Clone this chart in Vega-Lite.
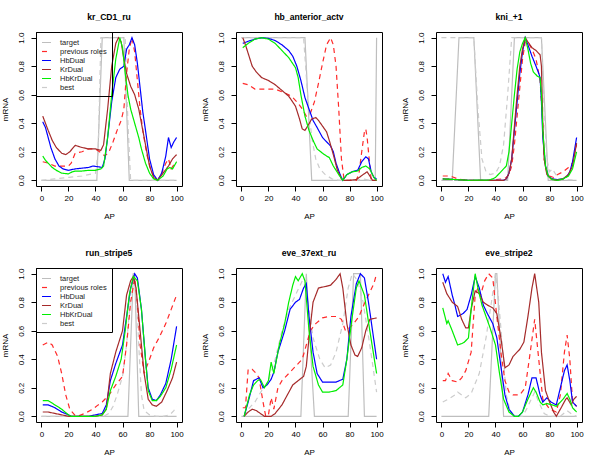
{
  "$schema": "https://vega.github.io/schema/vega-lite/v6.json",
  "padding": {"left": 0, "top": 12, "right": 0, "bottom": 0},
  "background": "white",
  "columns": 3,
  "spacing": {"column": 16, "row": 27},
  "config": {
    "font": "Liberation Sans",
    "view": {"stroke": "black", "strokeWidth": 1},
    "title": {"fontSize": 8.6, "fontWeight": "bold", "offset": 10, "color": "black"},
    "axis": {"domain": false, "grid": false, "ticks": true, "tickColor": "black", "tickSize": 5, "labelFontSize": 8, "labelColor": "black", "titleFontSize": 8, "titleFontWeight": "normal", "titleColor": "black", "labelPadding": 3, "labelFlush": false},
    "axisX": {"values": [0, 20, 40, 60, 80, 100], "titlePadding": 10},
    "axisY": {"values": [0, 0.2, 0.4, 0.6, 0.8, 1.0], "format": ".1f", "labelAngle": -90, "labelPadding": 6, "titlePadding": 8},
    "line": {"strokeWidth": 1.2}
  },
  "resolve": {"scale": {"color": "independent", "strokeDash": "independent"}, "legend": {"color": "independent", "strokeDash": "independent"}},
  "datasets": {
    "p1": [
      {"s":"target","x":0,"y":0},{"s":"target","x":41,"y":0},{"s":"target","x":45,"y":1},{"s":"target","x":61,"y":1},{"s":"target","x":65,"y":0},{"s":"target","x":100,"y":0},
      {"s":"best","x":0,"y":0},{"s":"best","x":10,"y":0.01},{"s":"best","x":20,"y":0.02},{"s":"best","x":30,"y":0.03},{"s":"best","x":40,"y":0.05},{"s":"best","x":42,"y":0.2},{"s":"best","x":44,"y":1},{"s":"best","x":62,"y":1},{"s":"best","x":64,"y":0.4},{"s":"best","x":66,"y":0},{"s":"best","x":100,"y":0},
      {"s":"previous roles","x":1,"y":0.13},{"s":"previous roles","x":5,"y":0.12},{"s":"previous roles","x":10,"y":0.1},{"s":"previous roles","x":15,"y":0.1},{"s":"previous roles","x":20,"y":0.1},{"s":"previous roles","x":22,"y":0.12},{"s":"previous roles","x":25,"y":0.19},{"s":"previous roles","x":30,"y":0.2},{"s":"previous roles","x":35,"y":0.22},{"s":"previous roles","x":40,"y":0.22},{"s":"previous roles","x":43,"y":0.2},{"s":"previous roles","x":47,"y":0.17},{"s":"previous roles","x":50,"y":0.2},{"s":"previous roles","x":53,"y":0.27},{"s":"previous roles","x":56,"y":0.35},{"s":"previous roles","x":59,"y":0.42},{"s":"previous roles","x":61,"y":0.5},{"s":"previous roles","x":63,"y":0.75},{"s":"previous roles","x":65,"y":0.92},{"s":"previous roles","x":67,"y":1.0},{"s":"previous roles","x":69,"y":0.9},{"s":"previous roles","x":71,"y":0.7},{"s":"previous roles","x":73,"y":0.5},{"s":"previous roles","x":75,"y":0.35},{"s":"previous roles","x":78,"y":0.18},{"s":"previous roles","x":81,"y":0.07},{"s":"previous roles","x":84,"y":0.01},{"s":"previous roles","x":86,"y":0},{"s":"previous roles","x":89,"y":0.05},{"s":"previous roles","x":92,"y":0.12},{"s":"previous roles","x":94,"y":0.15},{"s":"previous roles","x":96,"y":0.08},{"s":"previous roles","x":98,"y":0.11},{"s":"previous roles","x":100,"y":0.13},
      {"s":"HbDual","x":1,"y":0.41},{"s":"HbDual","x":3,"y":0.37},{"s":"HbDual","x":5,"y":0.3},{"s":"HbDual","x":7,"y":0.23},{"s":"HbDual","x":10,"y":0.15},{"s":"HbDual","x":13,"y":0.1},{"s":"HbDual","x":16,"y":0.08},{"s":"HbDual","x":20,"y":0.07},{"s":"HbDual","x":25,"y":0.08},{"s":"HbDual","x":30,"y":0.085},{"s":"HbDual","x":35,"y":0.09},{"s":"HbDual","x":38,"y":0.1},{"s":"HbDual","x":42,"y":0.095},{"s":"HbDual","x":45,"y":0.09},{"s":"HbDual","x":47,"y":0.15},{"s":"HbDual","x":49,"y":0.3},{"s":"HbDual","x":52,"y":0.55},{"s":"HbDual","x":55,"y":0.72},{"s":"HbDual","x":58,"y":0.78},{"s":"HbDual","x":61,"y":0.8},{"s":"HbDual","x":63,"y":0.92},{"s":"HbDual","x":65,"y":0.95},{"s":"HbDual","x":67,"y":1.0},{"s":"HbDual","x":69,"y":0.95},{"s":"HbDual","x":71,"y":0.82},{"s":"HbDual","x":73,"y":0.65},{"s":"HbDual","x":75,"y":0.48},{"s":"HbDual","x":77,"y":0.35},{"s":"HbDual","x":80,"y":0.15},{"s":"HbDual","x":83,"y":0.04},{"s":"HbDual","x":86,"y":0},{"s":"HbDual","x":89,"y":0.05},{"s":"HbDual","x":92,"y":0.17},{"s":"HbDual","x":94,"y":0.3},{"s":"HbDual","x":96,"y":0.23},{"s":"HbDual","x":98,"y":0.27},{"s":"HbDual","x":100,"y":0.3},
      {"s":"KrDual","x":1,"y":0.45},{"s":"KrDual","x":3,"y":0.4},{"s":"KrDual","x":5,"y":0.35},{"s":"KrDual","x":8,"y":0.28},{"s":"KrDual","x":11,"y":0.23},{"s":"KrDual","x":15,"y":0.19},{"s":"KrDual","x":18,"y":0.18},{"s":"KrDual","x":21,"y":0.2},{"s":"KrDual","x":25,"y":0.245},{"s":"KrDual","x":30,"y":0.23},{"s":"KrDual","x":35,"y":0.22},{"s":"KrDual","x":40,"y":0.22},{"s":"KrDual","x":44,"y":0.21},{"s":"KrDual","x":46,"y":0.25},{"s":"KrDual","x":49,"y":0.5},{"s":"KrDual","x":52,"y":0.8},{"s":"KrDual","x":55,"y":0.96},{"s":"KrDual","x":57,"y":1.0},{"s":"KrDual","x":59,"y":0.97},{"s":"KrDual","x":61,"y":0.85},{"s":"KrDual","x":63,"y":0.75},{"s":"KrDual","x":66,"y":0.66},{"s":"KrDual","x":69,"y":0.6},{"s":"KrDual","x":72,"y":0.5},{"s":"KrDual","x":74,"y":0.4},{"s":"KrDual","x":77,"y":0.25},{"s":"KrDual","x":80,"y":0.1},{"s":"KrDual","x":83,"y":0.02},{"s":"KrDual","x":86,"y":0},{"s":"KrDual","x":90,"y":0.05},{"s":"KrDual","x":94,"y":0.1},{"s":"KrDual","x":97,"y":0.15},{"s":"KrDual","x":100,"y":0.18},
      {"s":"HbKrDual","x":1,"y":0.17},{"s":"HbKrDual","x":3,"y":0.14},{"s":"HbKrDual","x":5,"y":0.12},{"s":"HbKrDual","x":8,"y":0.09},{"s":"HbKrDual","x":11,"y":0.07},{"s":"HbKrDual","x":15,"y":0.05},{"s":"HbKrDual","x":20,"y":0.045},{"s":"HbKrDual","x":23,"y":0.06},{"s":"HbKrDual","x":25,"y":0.065},{"s":"HbKrDual","x":30,"y":0.065},{"s":"HbKrDual","x":35,"y":0.07},{"s":"HbKrDual","x":40,"y":0.07},{"s":"HbKrDual","x":44,"y":0.08},{"s":"HbKrDual","x":46,"y":0.1},{"s":"HbKrDual","x":49,"y":0.3},{"s":"HbKrDual","x":52,"y":0.6},{"s":"HbKrDual","x":55,"y":0.85},{"s":"HbKrDual","x":58,"y":1.0},{"s":"HbKrDual","x":60,"y":0.93},{"s":"HbKrDual","x":62,"y":0.75},{"s":"HbKrDual","x":64,"y":0.6},{"s":"HbKrDual","x":66,"y":0.5},{"s":"HbKrDual","x":69,"y":0.4},{"s":"HbKrDual","x":72,"y":0.3},{"s":"HbKrDual","x":74,"y":0.22},{"s":"HbKrDual","x":77,"y":0.12},{"s":"HbKrDual","x":80,"y":0.05},{"s":"HbKrDual","x":83,"y":0.01},{"s":"HbKrDual","x":86,"y":0},{"s":"HbKrDual","x":90,"y":0.03},{"s":"HbKrDual","x":93,"y":0.08},{"s":"HbKrDual","x":95,"y":0.09},{"s":"HbKrDual","x":97,"y":0.08},{"s":"HbKrDual","x":100,"y":0.13}
    ],
    "p2": [
      {"s":"target","x":0,"y":1},{"s":"target","x":47,"y":1},{"s":"target","x":52,"y":0},{"s":"target","x":99,"y":0},{"s":"target","x":100,"y":1},
      {"s":"best","x":0,"y":1},{"s":"best","x":46,"y":1},{"s":"best","x":49,"y":0.6},{"s":"best","x":52,"y":0.3},{"s":"best","x":55,"y":0.15},{"s":"best","x":58,"y":0.08},{"s":"best","x":62,"y":0.04},{"s":"best","x":67,"y":0.01},{"s":"best","x":72,"y":0},{"s":"best","x":85,"y":0},{"s":"best","x":90,"y":0.01},{"s":"best","x":95,"y":0},{"s":"best","x":100,"y":0},
      {"s":"previous roles","x":1,"y":0.68},{"s":"previous roles","x":5,"y":0.67},{"s":"previous roles","x":10,"y":0.64},{"s":"previous roles","x":15,"y":0.64},{"s":"previous roles","x":20,"y":0.64},{"s":"previous roles","x":25,"y":0.64},{"s":"previous roles","x":30,"y":0.62},{"s":"previous roles","x":35,"y":0.6},{"s":"previous roles","x":38,"y":0.58},{"s":"previous roles","x":42,"y":0.54},{"s":"previous roles","x":45,"y":0.5},{"s":"previous roles","x":48,"y":0.45},{"s":"previous roles","x":51,"y":0.47},{"s":"previous roles","x":54,"y":0.55},{"s":"previous roles","x":57,"y":0.68},{"s":"previous roles","x":60,"y":0.82},{"s":"previous roles","x":63,"y":0.95},{"s":"previous roles","x":66,"y":1.0},{"s":"previous roles","x":68,"y":0.95},{"s":"previous roles","x":70,"y":0.8},{"s":"previous roles","x":72,"y":0.5},{"s":"previous roles","x":74,"y":0.15},{"s":"previous roles","x":76,"y":0},{"s":"previous roles","x":80,"y":0},{"s":"previous roles","x":85,"y":0},{"s":"previous roles","x":87,"y":0.05},{"s":"previous roles","x":89,"y":0.2},{"s":"previous roles","x":91,"y":0.34},{"s":"previous roles","x":92,"y":0.36},{"s":"previous roles","x":93,"y":0.3},{"s":"previous roles","x":95,"y":0.1},{"s":"previous roles","x":96,"y":0},{"s":"previous roles","x":100,"y":0},
      {"s":"HbDual","x":1,"y":0.96},{"s":"HbDual","x":5,"y":0.975},{"s":"HbDual","x":10,"y":0.99},{"s":"HbDual","x":15,"y":1.0},{"s":"HbDual","x":20,"y":0.995},{"s":"HbDual","x":25,"y":0.98},{"s":"HbDual","x":30,"y":0.95},{"s":"HbDual","x":35,"y":0.91},{"s":"HbDual","x":38,"y":0.87},{"s":"HbDual","x":41,"y":0.8},{"s":"HbDual","x":44,"y":0.7},{"s":"HbDual","x":47,"y":0.58},{"s":"HbDual","x":50,"y":0.5},{"s":"HbDual","x":53,"y":0.42},{"s":"HbDual","x":56,"y":0.37},{"s":"HbDual","x":60,"y":0.3},{"s":"HbDual","x":63,"y":0.27},{"s":"HbDual","x":66,"y":0.24},{"s":"HbDual","x":68,"y":0.2},{"s":"HbDual","x":70,"y":0.12},{"s":"HbDual","x":73,"y":0.04},{"s":"HbDual","x":75,"y":0},{"s":"HbDual","x":78,"y":0.04},{"s":"HbDual","x":82,"y":0.06},{"s":"HbDual","x":86,"y":0.07},{"s":"HbDual","x":89,"y":0.13},{"s":"HbDual","x":92,"y":0.165},{"s":"HbDual","x":94,"y":0.15},{"s":"HbDual","x":96,"y":0.06},{"s":"HbDual","x":98,"y":0.02},{"s":"HbDual","x":100,"y":0.01},
      {"s":"KrDual","x":1,"y":1.0},{"s":"KrDual","x":3,"y":0.95},{"s":"KrDual","x":5,"y":0.89},{"s":"KrDual","x":8,"y":0.8},{"s":"KrDual","x":11,"y":0.76},{"s":"KrDual","x":15,"y":0.72},{"s":"KrDual","x":20,"y":0.7},{"s":"KrDual","x":25,"y":0.67},{"s":"KrDual","x":30,"y":0.63},{"s":"KrDual","x":35,"y":0.59},{"s":"KrDual","x":40,"y":0.52},{"s":"KrDual","x":43,"y":0.43},{"s":"KrDual","x":45,"y":0.36},{"s":"KrDual","x":47,"y":0.35},{"s":"KrDual","x":49,"y":0.38},{"s":"KrDual","x":52,"y":0.43},{"s":"KrDual","x":55,"y":0.44},{"s":"KrDual","x":57,"y":0.42},{"s":"KrDual","x":60,"y":0.38},{"s":"KrDual","x":63,"y":0.34},{"s":"KrDual","x":65,"y":0.28},{"s":"KrDual","x":68,"y":0.18},{"s":"KrDual","x":71,"y":0.07},{"s":"KrDual","x":74,"y":0.01},{"s":"KrDual","x":76,"y":0},{"s":"KrDual","x":80,"y":0},{"s":"KrDual","x":85,"y":0.005},{"s":"KrDual","x":90,"y":0.04},{"s":"KrDual","x":93,"y":0.06},{"s":"KrDual","x":95,"y":0.03},{"s":"KrDual","x":97,"y":0},{"s":"KrDual","x":100,"y":0},
      {"s":"HbKrDual","x":1,"y":0.93},{"s":"HbKrDual","x":5,"y":0.96},{"s":"HbKrDual","x":10,"y":0.99},{"s":"HbKrDual","x":15,"y":1.0},{"s":"HbKrDual","x":20,"y":0.99},{"s":"HbKrDual","x":25,"y":0.96},{"s":"HbKrDual","x":30,"y":0.91},{"s":"HbKrDual","x":35,"y":0.86},{"s":"HbKrDual","x":40,"y":0.79},{"s":"HbKrDual","x":42,"y":0.72},{"s":"HbKrDual","x":44,"y":0.6},{"s":"HbKrDual","x":47,"y":0.45},{"s":"HbKrDual","x":50,"y":0.35},{"s":"HbKrDual","x":53,"y":0.28},{"s":"HbKrDual","x":56,"y":0.22},{"s":"HbKrDual","x":60,"y":0.19},{"s":"HbKrDual","x":63,"y":0.17},{"s":"HbKrDual","x":65,"y":0.16},{"s":"HbKrDual","x":68,"y":0.1},{"s":"HbKrDual","x":72,"y":0.04},{"s":"HbKrDual","x":75,"y":0},{"s":"HbKrDual","x":78,"y":0.04},{"s":"HbKrDual","x":82,"y":0.06},{"s":"HbKrDual","x":86,"y":0.065},{"s":"HbKrDual","x":89,"y":0.09},{"s":"HbKrDual","x":92,"y":0.1},{"s":"HbKrDual","x":95,"y":0.08},{"s":"HbKrDual","x":98,"y":0.02},{"s":"HbKrDual","x":100,"y":0}
    ],
    "p3": [
      {"s":"target","x":0,"y":0},{"s":"target","x":8,"y":0},{"s":"target","x":13,"y":1},{"s":"target","x":24,"y":1},{"s":"target","x":29,"y":0},{"s":"target","x":49,"y":0},{"s":"target","x":54,"y":1},{"s":"target","x":74,"y":1},{"s":"target","x":79,"y":0},{"s":"target","x":100,"y":0},
      {"s":"best","x":0,"y":1},{"s":"best","x":24,"y":1},{"s":"best","x":27,"y":0.5},{"s":"best","x":30,"y":0.15},{"s":"best","x":33,"y":0.06},{"s":"best","x":36,"y":0.04},{"s":"best","x":40,"y":0.05},{"s":"best","x":43,"y":0.1},{"s":"best","x":46,"y":0.25},{"s":"best","x":49,"y":0.6},{"s":"best","x":52,"y":1},{"s":"best","x":74,"y":1},{"s":"best","x":76,"y":0.5},{"s":"best","x":78,"y":0.15},{"s":"best","x":80,"y":0.06},{"s":"best","x":82,"y":0.08},{"s":"best","x":84,"y":0.05},{"s":"best","x":87,"y":0.01},{"s":"best","x":100,"y":0},
      {"s":"previous roles","x":1,"y":0.03},{"s":"previous roles","x":5,"y":0.03},{"s":"previous roles","x":8,"y":0.025},{"s":"previous roles","x":12,"y":0.01},{"s":"previous roles","x":15,"y":0.005},{"s":"previous roles","x":20,"y":0},{"s":"previous roles","x":35,"y":0},{"s":"previous roles","x":40,"y":0.005},{"s":"previous roles","x":45,"y":0.01},{"s":"previous roles","x":48,"y":0.02},{"s":"previous roles","x":50,"y":0.04},{"s":"previous roles","x":52,"y":0.1},{"s":"previous roles","x":54,"y":0.25},{"s":"previous roles","x":56,"y":0.45},{"s":"previous roles","x":58,"y":0.65},{"s":"previous roles","x":60,"y":0.85},{"s":"previous roles","x":62,"y":0.97},{"s":"previous roles","x":64,"y":0.97},{"s":"previous roles","x":67,"y":0.92},{"s":"previous roles","x":70,"y":0.85},{"s":"previous roles","x":73,"y":0.7},{"s":"previous roles","x":75,"y":0.4},{"s":"previous roles","x":76,"y":0.15},{"s":"previous roles","x":78,"y":0.05},{"s":"previous roles","x":80,"y":0.03},{"s":"previous roles","x":83,"y":0.02},{"s":"previous roles","x":86,"y":0.04},{"s":"previous roles","x":90,"y":0.06},{"s":"previous roles","x":94,"y":0.09},{"s":"previous roles","x":97,"y":0.12},{"s":"previous roles","x":100,"y":0.25},
      {"s":"HbDual","x":1,"y":0.01},{"s":"HbDual","x":10,"y":0.005},{"s":"HbDual","x":20,"y":0},{"s":"HbDual","x":46,"y":0},{"s":"HbDual","x":48,"y":0.01},{"s":"HbDual","x":50,"y":0.05},{"s":"HbDual","x":52,"y":0.15},{"s":"HbDual","x":54,"y":0.35},{"s":"HbDual","x":56,"y":0.55},{"s":"HbDual","x":58,"y":0.75},{"s":"HbDual","x":60,"y":0.9},{"s":"HbDual","x":62,"y":1.0},{"s":"HbDual","x":64,"y":0.95},{"s":"HbDual","x":67,"y":0.87},{"s":"HbDual","x":70,"y":0.8},{"s":"HbDual","x":72,"y":0.75},{"s":"HbDual","x":73,"y":0.72},{"s":"HbDual","x":74,"y":0.55},{"s":"HbDual","x":75,"y":0.3},{"s":"HbDual","x":77,"y":0.1},{"s":"HbDual","x":79,"y":0.03},{"s":"HbDual","x":82,"y":0.01},{"s":"HbDual","x":86,"y":0.005},{"s":"HbDual","x":90,"y":0.01},{"s":"HbDual","x":93,"y":0.03},{"s":"HbDual","x":95,"y":0.06},{"s":"HbDual","x":97,"y":0.13},{"s":"HbDual","x":100,"y":0.3},
      {"s":"KrDual","x":1,"y":0.01},{"s":"KrDual","x":10,"y":0.005},{"s":"KrDual","x":20,"y":0},{"s":"KrDual","x":46,"y":0},{"s":"KrDual","x":48,"y":0.01},{"s":"KrDual","x":50,"y":0.05},{"s":"KrDual","x":52,"y":0.15},{"s":"KrDual","x":54,"y":0.38},{"s":"KrDual","x":56,"y":0.6},{"s":"KrDual","x":58,"y":0.8},{"s":"KrDual","x":60,"y":0.92},{"s":"KrDual","x":62,"y":1.0},{"s":"KrDual","x":64,"y":0.97},{"s":"KrDual","x":67,"y":0.93},{"s":"KrDual","x":70,"y":0.91},{"s":"KrDual","x":73,"y":0.88},{"s":"KrDual","x":74,"y":0.8},{"s":"KrDual","x":75,"y":0.4},{"s":"KrDual","x":76,"y":0.15},{"s":"KrDual","x":78,"y":0.04},{"s":"KrDual","x":81,"y":0.01},{"s":"KrDual","x":85,"y":0},{"s":"KrDual","x":90,"y":0.01},{"s":"KrDual","x":94,"y":0.04},{"s":"KrDual","x":97,"y":0.1},{"s":"KrDual","x":100,"y":0.26},
      {"s":"HbKrDual","x":1,"y":0.01},{"s":"HbKrDual","x":10,"y":0.005},{"s":"HbKrDual","x":20,"y":0},{"s":"HbKrDual","x":35,"y":0.002},{"s":"HbKrDual","x":38,"y":0.01},{"s":"HbKrDual","x":40,"y":0.02},{"s":"HbKrDual","x":42,"y":0.04},{"s":"HbKrDual","x":45,"y":0.07},{"s":"HbKrDual","x":48,"y":0.1},{"s":"HbKrDual","x":50,"y":0.2},{"s":"HbKrDual","x":52,"y":0.4},{"s":"HbKrDual","x":54,"y":0.6},{"s":"HbKrDual","x":56,"y":0.78},{"s":"HbKrDual","x":58,"y":0.9},{"s":"HbKrDual","x":60,"y":0.96},{"s":"HbKrDual","x":62,"y":1.0},{"s":"HbKrDual","x":64,"y":0.92},{"s":"HbKrDual","x":66,"y":0.82},{"s":"HbKrDual","x":68,"y":0.76},{"s":"HbKrDual","x":71,"y":0.73},{"s":"HbKrDual","x":73,"y":0.72},{"s":"HbKrDual","x":74,"y":0.6},{"s":"HbKrDual","x":75,"y":0.35},{"s":"HbKrDual","x":77,"y":0.1},{"s":"HbKrDual","x":79,"y":0.03},{"s":"HbKrDual","x":82,"y":0.005},{"s":"HbKrDual","x":86,"y":0},{"s":"HbKrDual","x":90,"y":0.01},{"s":"HbKrDual","x":94,"y":0.03},{"s":"HbKrDual","x":97,"y":0.08},{"s":"HbKrDual","x":100,"y":0.2}
    ],
    "p4": [
      {"s":"target","x":0,"y":0},{"s":"target","x":64,"y":0},{"s":"target","x":68,"y":1},{"s":"target","x":69,"y":1},{"s":"target","x":72,"y":0},{"s":"target","x":100,"y":0},
      {"s":"best","x":0,"y":0},{"s":"best","x":46,"y":0},{"s":"best","x":50,"y":0.02},{"s":"best","x":53,"y":0.07},{"s":"best","x":56,"y":0.15},{"s":"best","x":60,"y":0.28},{"s":"best","x":63,"y":0.5},{"s":"best","x":66,"y":0.85},{"s":"best","x":68,"y":1.0},{"s":"best","x":70,"y":0.9},{"s":"best","x":72,"y":0.5},{"s":"best","x":74,"y":0.15},{"s":"best","x":76,"y":0.04},{"s":"best","x":80,"y":0.01},{"s":"best","x":85,"y":0},{"s":"best","x":90,"y":0},{"s":"best","x":95,"y":0.01},{"s":"best","x":98,"y":0.04},{"s":"best","x":100,"y":0.07},
      {"s":"previous roles","x":1,"y":0.5},{"s":"previous roles","x":5,"y":0.52},{"s":"previous roles","x":8,"y":0.5},{"s":"previous roles","x":12,"y":0.42},{"s":"previous roles","x":15,"y":0.3},{"s":"previous roles","x":18,"y":0.15},{"s":"previous roles","x":21,"y":0.05},{"s":"previous roles","x":25,"y":0.005},{"s":"previous roles","x":28,"y":0.005},{"s":"previous roles","x":32,"y":0.02},{"s":"previous roles","x":38,"y":0.05},{"s":"previous roles","x":42,"y":0.08},{"s":"previous roles","x":45,"y":0.1},{"s":"previous roles","x":50,"y":0.15},{"s":"previous roles","x":55,"y":0.22},{"s":"previous roles","x":60,"y":0.28},{"s":"previous roles","x":63,"y":0.5},{"s":"previous roles","x":66,"y":0.8},{"s":"previous roles","x":69,"y":0.97},{"s":"previous roles","x":71,"y":0.8},{"s":"previous roles","x":73,"y":0.5},{"s":"previous roles","x":76,"y":0.3},{"s":"previous roles","x":80,"y":0.4},{"s":"previous roles","x":83,"y":0.48},{"s":"previous roles","x":87,"y":0.55},{"s":"previous roles","x":92,"y":0.65},{"s":"previous roles","x":96,"y":0.75},{"s":"previous roles","x":100,"y":0.85},
      {"s":"HbDual","x":1,"y":0.08},{"s":"HbDual","x":5,"y":0.08},{"s":"HbDual","x":10,"y":0.06},{"s":"HbDual","x":15,"y":0.03},{"s":"HbDual","x":20,"y":0.01},{"s":"HbDual","x":22,"y":0},{"s":"HbDual","x":35,"y":0},{"s":"HbDual","x":40,"y":0.01},{"s":"HbDual","x":45,"y":0.02},{"s":"HbDual","x":48,"y":0.08},{"s":"HbDual","x":51,"y":0.25},{"s":"HbDual","x":55,"y":0.37},{"s":"HbDual","x":60,"y":0.5},{"s":"HbDual","x":63,"y":0.7},{"s":"HbDual","x":66,"y":0.9},{"s":"HbDual","x":69,"y":1.0},{"s":"HbDual","x":71,"y":0.97},{"s":"HbDual","x":74,"y":0.75},{"s":"HbDual","x":77,"y":0.4},{"s":"HbDual","x":79,"y":0.2},{"s":"HbDual","x":82,"y":0.12},{"s":"HbDual","x":85,"y":0.11},{"s":"HbDual","x":88,"y":0.15},{"s":"HbDual","x":92,"y":0.23},{"s":"HbDual","x":96,"y":0.4},{"s":"HbDual","x":100,"y":0.63},
      {"s":"KrDual","x":1,"y":0.03},{"s":"KrDual","x":5,"y":0.03},{"s":"KrDual","x":10,"y":0.02},{"s":"KrDual","x":15,"y":0.01},{"s":"KrDual","x":20,"y":0},{"s":"KrDual","x":40,"y":0},{"s":"KrDual","x":45,"y":0.01},{"s":"KrDual","x":48,"y":0.05},{"s":"KrDual","x":51,"y":0.3},{"s":"KrDual","x":55,"y":0.45},{"s":"KrDual","x":60,"y":0.6},{"s":"KrDual","x":63,"y":0.85},{"s":"KrDual","x":66,"y":0.95},{"s":"KrDual","x":68,"y":0.98},{"s":"KrDual","x":70,"y":0.9},{"s":"KrDual","x":73,"y":0.6},{"s":"KrDual","x":76,"y":0.3},{"s":"KrDual","x":79,"y":0.12},{"s":"KrDual","x":82,"y":0.08},{"s":"KrDual","x":85,"y":0.07},{"s":"KrDual","x":89,"y":0.1},{"s":"KrDual","x":93,"y":0.18},{"s":"KrDual","x":97,"y":0.27},{"s":"KrDual","x":100,"y":0.38},
      {"s":"HbKrDual","x":1,"y":0.11},{"s":"HbKrDual","x":5,"y":0.11},{"s":"HbKrDual","x":10,"y":0.08},{"s":"HbKrDual","x":15,"y":0.05},{"s":"HbKrDual","x":20,"y":0.01},{"s":"HbKrDual","x":22,"y":0},{"s":"HbKrDual","x":40,"y":0},{"s":"HbKrDual","x":45,"y":0.01},{"s":"HbKrDual","x":48,"y":0.05},{"s":"HbKrDual","x":51,"y":0.18},{"s":"HbKrDual","x":55,"y":0.28},{"s":"HbKrDual","x":59,"y":0.4},{"s":"HbKrDual","x":62,"y":0.6},{"s":"HbKrDual","x":65,"y":0.85},{"s":"HbKrDual","x":68,"y":0.98},{"s":"HbKrDual","x":71,"y":0.95},{"s":"HbKrDual","x":74,"y":0.75},{"s":"HbKrDual","x":77,"y":0.4},{"s":"HbKrDual","x":79,"y":0.18},{"s":"HbKrDual","x":82,"y":0.11},{"s":"HbKrDual","x":85,"y":0.11},{"s":"HbKrDual","x":88,"y":0.14},{"s":"HbKrDual","x":92,"y":0.2},{"s":"HbKrDual","x":96,"y":0.33},{"s":"HbKrDual","x":100,"y":0.5}
    ],
    "p5": [
      {"s":"target","x":0,"y":0},{"s":"target","x":44,"y":0},{"s":"target","x":48,"y":1},{"s":"target","x":54,"y":0},{"s":"target","x":79,"y":0},{"s":"target","x":83,"y":1},{"s":"target","x":88,"y":1},{"s":"target","x":91,"y":0},{"s":"target","x":100,"y":0},
      {"s":"best","x":2,"y":0},{"s":"best","x":5,"y":0.05},{"s":"best","x":10,"y":0.1},{"s":"best","x":15,"y":0.18},{"s":"best","x":20,"y":0.25},{"s":"best","x":25,"y":0.4},{"s":"best","x":30,"y":0.6},{"s":"best","x":35,"y":0.75},{"s":"best","x":40,"y":0.85},{"s":"best","x":45,"y":0.95},{"s":"best","x":48,"y":0.9},{"s":"best","x":50,"y":0.75},{"s":"best","x":53,"y":0.55},{"s":"best","x":58,"y":0.4},{"s":"best","x":62,"y":0.34},{"s":"best","x":66,"y":0.36},{"s":"best","x":70,"y":0.45},{"s":"best","x":75,"y":0.65},{"s":"best","x":79,"y":0.9},{"s":"best","x":82,"y":1.0},{"s":"best","x":86,"y":0.95},{"s":"best","x":90,"y":0.8},{"s":"best","x":95,"y":0.5},{"s":"best","x":100,"y":0.17},
      {"s":"previous roles","x":1,"y":0.06},{"s":"previous roles","x":3,"y":0.06},{"s":"previous roles","x":5,"y":0.33},{"s":"previous roles","x":8,"y":0.33},{"s":"previous roles","x":11,"y":0.3},{"s":"previous roles","x":13,"y":0.27},{"s":"previous roles","x":16,"y":0.1},{"s":"previous roles","x":18,"y":0},{"s":"previous roles","x":20,"y":0.01},{"s":"previous roles","x":22,"y":0.13},{"s":"previous roles","x":24,"y":0.05},{"s":"previous roles","x":27,"y":0.2},{"s":"previous roles","x":30,"y":0.25},{"s":"previous roles","x":35,"y":0.3},{"s":"previous roles","x":40,"y":0.35},{"s":"previous roles","x":45,"y":0.4},{"s":"previous roles","x":48,"y":0.5},{"s":"previous roles","x":51,"y":0.6},{"s":"previous roles","x":55,"y":0.65},{"s":"previous roles","x":60,"y":0.69},{"s":"previous roles","x":65,"y":0.7},{"s":"previous roles","x":70,"y":0.7},{"s":"previous roles","x":74,"y":0.68},{"s":"previous roles","x":77,"y":0.6},{"s":"previous roles","x":80,"y":0.62},{"s":"previous roles","x":83,"y":0.65},{"s":"previous roles","x":87,"y":0.7},{"s":"previous roles","x":90,"y":0.77},{"s":"previous roles","x":94,"y":0.85},{"s":"previous roles","x":98,"y":0.93},{"s":"previous roles","x":100,"y":1.0},
      {"s":"HbDual","x":2,"y":0},{"s":"HbDual","x":5,"y":0.1},{"s":"HbDual","x":9,"y":0.25},{"s":"HbDual","x":11,"y":0.26},{"s":"HbDual","x":13,"y":0.27},{"s":"HbDual","x":16,"y":0.2},{"s":"HbDual","x":19,"y":0.22},{"s":"HbDual","x":22,"y":0.26},{"s":"HbDual","x":24,"y":0.31},{"s":"HbDual","x":27,"y":0.45},{"s":"HbDual","x":32,"y":0.6},{"s":"HbDual","x":36,"y":0.75},{"s":"HbDual","x":40,"y":0.8},{"s":"HbDual","x":43,"y":0.82},{"s":"HbDual","x":46,"y":0.9},{"s":"HbDual","x":48,"y":0.93},{"s":"HbDual","x":50,"y":0.7},{"s":"HbDual","x":53,"y":0.45},{"s":"HbDual","x":56,"y":0.3},{"s":"HbDual","x":60,"y":0.24},{"s":"HbDual","x":65,"y":0.24},{"s":"HbDual","x":70,"y":0.24},{"s":"HbDual","x":75,"y":0.26},{"s":"HbDual","x":78,"y":0.4},{"s":"HbDual","x":81,"y":0.7},{"s":"HbDual","x":85,"y":0.93},{"s":"HbDual","x":88,"y":1.0},{"s":"HbDual","x":91,"y":0.97},{"s":"HbDual","x":94,"y":0.8},{"s":"HbDual","x":97,"y":0.6},{"s":"HbDual","x":100,"y":0.4},
      {"s":"KrDual","x":2,"y":0},{"s":"KrDual","x":5,"y":0.03},{"s":"KrDual","x":8,"y":0.05},{"s":"KrDual","x":11,"y":0.04},{"s":"KrDual","x":14,"y":0.02},{"s":"KrDual","x":17,"y":0},{"s":"KrDual","x":22,"y":0},{"s":"KrDual","x":25,"y":0.02},{"s":"KrDual","x":30,"y":0.08},{"s":"KrDual","x":34,"y":0.15},{"s":"KrDual","x":38,"y":0.22},{"s":"KrDual","x":42,"y":0.25},{"s":"KrDual","x":46,"y":0.28},{"s":"KrDual","x":48,"y":0.35},{"s":"KrDual","x":50,"y":0.55},{"s":"KrDual","x":53,"y":0.8},{"s":"KrDual","x":57,"y":0.9},{"s":"KrDual","x":62,"y":0.91},{"s":"KrDual","x":66,"y":0.92},{"s":"KrDual","x":70,"y":0.96},{"s":"KrDual","x":73,"y":1.0},{"s":"KrDual","x":75,"y":0.9},{"s":"KrDual","x":78,"y":0.65},{"s":"KrDual","x":81,"y":0.5},{"s":"KrDual","x":84,"y":0.43},{"s":"KrDual","x":86,"y":0.42},{"s":"KrDual","x":89,"y":0.48},{"s":"KrDual","x":92,"y":0.6},{"s":"KrDual","x":95,"y":0.68},{"s":"KrDual","x":100,"y":0.69},
      {"s":"HbKrDual","x":2,"y":0},{"s":"HbKrDual","x":6,"y":0.15},{"s":"HbKrDual","x":9,"y":0.22},{"s":"HbKrDual","x":12,"y":0.25},{"s":"HbKrDual","x":14,"y":0.26},{"s":"HbKrDual","x":17,"y":0.2},{"s":"HbKrDual","x":20,"y":0.25},{"s":"HbKrDual","x":22,"y":0.38},{"s":"HbKrDual","x":24,"y":0.3},{"s":"HbKrDual","x":28,"y":0.5},{"s":"HbKrDual","x":32,"y":0.65},{"s":"HbKrDual","x":35,"y":0.8},{"s":"HbKrDual","x":38,"y":0.92},{"s":"HbKrDual","x":40,"y":0.98},{"s":"HbKrDual","x":42,"y":0.95},{"s":"HbKrDual","x":45,"y":1.0},{"s":"HbKrDual","x":47,"y":0.95},{"s":"HbKrDual","x":50,"y":0.6},{"s":"HbKrDual","x":53,"y":0.35},{"s":"HbKrDual","x":57,"y":0.22},{"s":"HbKrDual","x":60,"y":0.17},{"s":"HbKrDual","x":65,"y":0.17},{"s":"HbKrDual","x":70,"y":0.18},{"s":"HbKrDual","x":75,"y":0.22},{"s":"HbKrDual","x":78,"y":0.4},{"s":"HbKrDual","x":82,"y":0.7},{"s":"HbKrDual","x":85,"y":0.9},{"s":"HbKrDual","x":87,"y":0.95},{"s":"HbKrDual","x":91,"y":0.85},{"s":"HbKrDual","x":95,"y":0.6},{"s":"HbKrDual","x":100,"y":0.3}
    ],
    "p6": [
      {"s":"target","x":0,"y":0},{"s":"target","x":35,"y":0},{"s":"target","x":40,"y":1},{"s":"target","x":41,"y":1},{"s":"target","x":46,"y":0},{"s":"target","x":100,"y":0},
      {"s":"best","x":1,"y":0.1},{"s":"best","x":5,"y":0.12},{"s":"best","x":10,"y":0.15},{"s":"best","x":12,"y":0.17},{"s":"best","x":18,"y":0.13},{"s":"best","x":22,"y":0.16},{"s":"best","x":28,"y":0.3},{"s":"best","x":33,"y":0.55},{"s":"best","x":37,"y":0.8},{"s":"best","x":40,"y":1.0},{"s":"best","x":42,"y":0.85},{"s":"best","x":45,"y":0.5},{"s":"best","x":48,"y":0.15},{"s":"best","x":51,"y":0.03},{"s":"best","x":55,"y":0},{"s":"best","x":60,"y":0},{"s":"best","x":63,"y":0.05},{"s":"best","x":67,"y":0.13},{"s":"best","x":69,"y":0.17},{"s":"best","x":72,"y":0.1},{"s":"best","x":76,"y":0.02},{"s":"best","x":80,"y":0},{"s":"best","x":88,"y":0},{"s":"best","x":93,"y":0.04},{"s":"best","x":97,"y":0.01},{"s":"best","x":100,"y":0},
      {"s":"previous roles","x":1,"y":0.25},{"s":"previous roles","x":3,"y":0.25},{"s":"previous roles","x":5,"y":0.3},{"s":"previous roles","x":8,"y":0.25},{"s":"previous roles","x":12,"y":0.24},{"s":"previous roles","x":15,"y":0.27},{"s":"previous roles","x":18,"y":0.32},{"s":"previous roles","x":22,"y":0.45},{"s":"previous roles","x":25,"y":0.85},{"s":"previous roles","x":27,"y":0.9},{"s":"previous roles","x":29,"y":0.85},{"s":"previous roles","x":32,"y":0.95},{"s":"previous roles","x":35,"y":1.0},{"s":"previous roles","x":38,"y":0.97},{"s":"previous roles","x":41,"y":0.7},{"s":"previous roles","x":44,"y":0.45},{"s":"previous roles","x":47,"y":0.25},{"s":"previous roles","x":50,"y":0.17},{"s":"previous roles","x":53,"y":0.15},{"s":"previous roles","x":58,"y":0.15},{"s":"previous roles","x":62,"y":0.2},{"s":"previous roles","x":65,"y":0.4},{"s":"previous roles","x":69,"y":0.68},{"s":"previous roles","x":72,"y":0.4},{"s":"previous roles","x":75,"y":0.12},{"s":"previous roles","x":80,"y":0.05},{"s":"previous roles","x":85,"y":0.03},{"s":"previous roles","x":88,"y":0.15},{"s":"previous roles","x":91,"y":0.45},{"s":"previous roles","x":93,"y":0.57},{"s":"previous roles","x":95,"y":0.4},{"s":"previous roles","x":97,"y":0.1},{"s":"previous roles","x":100,"y":0.07},
      {"s":"HbDual","x":1,"y":1.0},{"s":"HbDual","x":3,"y":0.94},{"s":"HbDual","x":5,"y":0.98},{"s":"HbDual","x":8,"y":0.85},{"s":"HbDual","x":10,"y":0.78},{"s":"HbDual","x":12,"y":0.7},{"s":"HbDual","x":16,"y":0.72},{"s":"HbDual","x":19,"y":0.75},{"s":"HbDual","x":22,"y":0.85},{"s":"HbDual","x":25,"y":0.98},{"s":"HbDual","x":28,"y":0.9},{"s":"HbDual","x":31,"y":0.78},{"s":"HbDual","x":34,"y":0.72},{"s":"HbDual","x":38,"y":0.65},{"s":"HbDual","x":41,"y":0.55},{"s":"HbDual","x":44,"y":0.35},{"s":"HbDual","x":47,"y":0.15},{"s":"HbDual","x":50,"y":0.05},{"s":"HbDual","x":54,"y":0},{"s":"HbDual","x":57,"y":0},{"s":"HbDual","x":60,"y":0.03},{"s":"HbDual","x":64,"y":0.15},{"s":"HbDual","x":67,"y":0.27},{"s":"HbDual","x":70,"y":0.27},{"s":"HbDual","x":73,"y":0.15},{"s":"HbDual","x":75,"y":0.1},{"s":"HbDual","x":78,"y":0.13},{"s":"HbDual","x":81,"y":0.1},{"s":"HbDual","x":85,"y":0.08},{"s":"HbDual","x":88,"y":0.2},{"s":"HbDual","x":91,"y":0.32},{"s":"HbDual","x":93,"y":0.36},{"s":"HbDual","x":95,"y":0.25},{"s":"HbDual","x":97,"y":0.1},{"s":"HbDual","x":100,"y":0.07},
      {"s":"KrDual","x":1,"y":0.94},{"s":"KrDual","x":4,"y":0.86},{"s":"KrDual","x":8,"y":0.8},{"s":"KrDual","x":12,"y":0.77},{"s":"KrDual","x":15,"y":0.68},{"s":"KrDual","x":18,"y":0.62},{"s":"KrDual","x":20,"y":0.62},{"s":"KrDual","x":22,"y":0.75},{"s":"KrDual","x":25,"y":0.88},{"s":"KrDual","x":28,"y":0.86},{"s":"KrDual","x":31,"y":0.8},{"s":"KrDual","x":34,"y":0.78},{"s":"KrDual","x":38,"y":0.76},{"s":"KrDual","x":41,"y":0.72},{"s":"KrDual","x":44,"y":0.55},{"s":"KrDual","x":47,"y":0.34},{"s":"KrDual","x":50,"y":0.36},{"s":"KrDual","x":53,"y":0.42},{"s":"KrDual","x":58,"y":0.47},{"s":"KrDual","x":61,"y":0.52},{"s":"KrDual","x":64,"y":0.7},{"s":"KrDual","x":67,"y":0.9},{"s":"KrDual","x":69,"y":1.0},{"s":"KrDual","x":72,"y":0.8},{"s":"KrDual","x":74,"y":0.45},{"s":"KrDual","x":77,"y":0.18},{"s":"KrDual","x":80,"y":0.1},{"s":"KrDual","x":83,"y":0.03},{"s":"KrDual","x":85,"y":0},{"s":"KrDual","x":88,"y":0.05},{"s":"KrDual","x":92,"y":0.12},{"s":"KrDual","x":93,"y":0.13},{"s":"KrDual","x":96,"y":0.08},{"s":"KrDual","x":98,"y":0.12},{"s":"KrDual","x":100,"y":0.14},
      {"s":"HbKrDual","x":1,"y":0.76},{"s":"HbKrDual","x":4,"y":0.65},{"s":"HbKrDual","x":5,"y":0.67},{"s":"HbKrDual","x":8,"y":0.6},{"s":"HbKrDual","x":12,"y":0.5},{"s":"HbKrDual","x":15,"y":0.51},{"s":"HbKrDual","x":17,"y":0.52},{"s":"HbKrDual","x":20,"y":0.55},{"s":"HbKrDual","x":22,"y":0.75},{"s":"HbKrDual","x":25,"y":1.0},{"s":"HbKrDual","x":27,"y":0.9},{"s":"HbKrDual","x":30,"y":0.78},{"s":"HbKrDual","x":33,"y":0.7},{"s":"HbKrDual","x":36,"y":0.62},{"s":"HbKrDual","x":40,"y":0.5},{"s":"HbKrDual","x":43,"y":0.3},{"s":"HbKrDual","x":46,"y":0.12},{"s":"HbKrDual","x":50,"y":0.03},{"s":"HbKrDual","x":54,"y":0},{"s":"HbKrDual","x":57,"y":0},{"s":"HbKrDual","x":60,"y":0.03},{"s":"HbKrDual","x":64,"y":0.12},{"s":"HbKrDual","x":68,"y":0.2},{"s":"HbKrDual","x":70,"y":0.17},{"s":"HbKrDual","x":73,"y":0.1},{"s":"HbKrDual","x":75,"y":0.08},{"s":"HbKrDual","x":78,"y":0.09},{"s":"HbKrDual","x":82,"y":0.08},{"s":"HbKrDual","x":85,"y":0.07},{"s":"HbKrDual","x":90,"y":0.12},{"s":"HbKrDual","x":93,"y":0.16},{"s":"HbKrDual","x":95,"y":0.12},{"s":"HbKrDual","x":97,"y":0.06},{"s":"HbKrDual","x":100,"y":0.03}
    ]
  },
  "concat": [
    {
      "title": "kr_CD1_ru", "width": 146, "height": 154, "data": {"name": "p1"}, "mark": "line",
      "encoding": {
        "x": {"field": "x", "type": "quantitative", "scale": {"domain": [-4, 104], "nice": false, "zero": false}, "axis": {"title": "AP"}},
        "y": {"field": "y", "type": "quantitative", "scale": {"domain": [-0.04, 1.04], "nice": false, "zero": false}, "axis": {"title": "mRNA"}},
        "color": {"field": "s", "type": "nominal", "scale": {"domain": ["target", "previous roles", "HbDual", "KrDual", "HbKrDual", "best"], "range": ["#bebebe", "#ff2a2a", "#0000ff", "#a52a2a", "#00ee00", "#cccccc"]}, "legend": {"title": null, "orient": "none", "legendX": 0, "legendY": 0, "strokeColor": "black", "padding": 5, "labelFontSize": 7.5, "labelColor": "#222222", "symbolSize": 81, "symbolStrokeWidth": 1.3, "rowPadding": 0, "labelOffset": 8, "symbolType": "stroke"}},
        "strokeDash": {"field": "s", "type": "nominal", "scale": {"domain": ["target", "previous roles", "HbDual", "KrDual", "HbKrDual", "best"], "range": [[1, 0], [5, 4], [1, 0], [1, 0], [1, 0], [5, 4]]}, "legend": {"title": null, "orient": "none", "legendX": 0, "legendY": 0, "strokeColor": "black", "padding": 5, "labelFontSize": 7.5, "labelColor": "#222222", "symbolSize": 81, "symbolStrokeWidth": 1.3, "rowPadding": 0, "labelOffset": 8, "symbolType": "stroke"}}
      }
    },
    {
      "title": "hb_anterior_actv", "width": 146, "height": 154, "data": {"name": "p2"}, "mark": "line",
      "encoding": {
        "x": {"field": "x", "type": "quantitative", "scale": {"domain": [-4, 104], "nice": false, "zero": false}, "axis": {"title": "AP"}},
        "y": {"field": "y", "type": "quantitative", "scale": {"domain": [-0.04, 1.04], "nice": false, "zero": false}, "axis": {"title": "mRNA"}},
        "color": {"field": "s", "type": "nominal", "scale": {"domain": ["target", "previous roles", "HbDual", "KrDual", "HbKrDual", "best"], "range": ["#bebebe", "#ff2a2a", "#0000ff", "#a52a2a", "#00ee00", "#cccccc"]}, "legend": null},
        "strokeDash": {"field": "s", "type": "nominal", "scale": {"domain": ["target", "previous roles", "HbDual", "KrDual", "HbKrDual", "best"], "range": [[1, 0], [5, 4], [1, 0], [1, 0], [1, 0], [5, 4]]}, "legend": null}
      }
    },
    {
      "title": "kni_+1", "width": 146, "height": 154, "data": {"name": "p3"}, "mark": "line",
      "encoding": {
        "x": {"field": "x", "type": "quantitative", "scale": {"domain": [-4, 104], "nice": false, "zero": false}, "axis": {"title": "AP"}},
        "y": {"field": "y", "type": "quantitative", "scale": {"domain": [-0.04, 1.04], "nice": false, "zero": false}, "axis": {"title": "mRNA"}},
        "color": {"field": "s", "type": "nominal", "scale": {"domain": ["target", "previous roles", "HbDual", "KrDual", "HbKrDual", "best"], "range": ["#bebebe", "#ff2a2a", "#0000ff", "#a52a2a", "#00ee00", "#cccccc"]}, "legend": null},
        "strokeDash": {"field": "s", "type": "nominal", "scale": {"domain": ["target", "previous roles", "HbDual", "KrDual", "HbKrDual", "best"], "range": [[1, 0], [5, 4], [1, 0], [1, 0], [1, 0], [5, 4]]}, "legend": null}
      }
    },
    {
      "title": "run_stripe5", "width": 146, "height": 154, "data": {"name": "p4"}, "mark": "line",
      "encoding": {
        "x": {"field": "x", "type": "quantitative", "scale": {"domain": [-4, 104], "nice": false, "zero": false}, "axis": {"title": "AP"}},
        "y": {"field": "y", "type": "quantitative", "scale": {"domain": [-0.04, 1.04], "nice": false, "zero": false}, "axis": {"title": "mRNA"}},
        "color": {"field": "s", "type": "nominal", "scale": {"domain": ["target", "previous roles", "HbDual", "KrDual", "HbKrDual", "best"], "range": ["#bebebe", "#ff2a2a", "#0000ff", "#a52a2a", "#00ee00", "#cccccc"]}, "legend": {"title": null, "orient": "none", "legendX": 0, "legendY": 0, "strokeColor": "black", "padding": 5, "labelFontSize": 7.5, "labelColor": "#222222", "symbolSize": 81, "symbolStrokeWidth": 1.3, "rowPadding": 0, "labelOffset": 8, "symbolType": "stroke"}},
        "strokeDash": {"field": "s", "type": "nominal", "scale": {"domain": ["target", "previous roles", "HbDual", "KrDual", "HbKrDual", "best"], "range": [[1, 0], [5, 4], [1, 0], [1, 0], [1, 0], [5, 4]]}, "legend": {"title": null, "orient": "none", "legendX": 0, "legendY": 0, "strokeColor": "black", "padding": 5, "labelFontSize": 7.5, "labelColor": "#222222", "symbolSize": 81, "symbolStrokeWidth": 1.3, "rowPadding": 0, "labelOffset": 8, "symbolType": "stroke"}}
      }
    },
    {
      "title": "eve_37ext_ru", "width": 146, "height": 154, "data": {"name": "p5"}, "mark": "line",
      "encoding": {
        "x": {"field": "x", "type": "quantitative", "scale": {"domain": [-4, 104], "nice": false, "zero": false}, "axis": {"title": "AP"}},
        "y": {"field": "y", "type": "quantitative", "scale": {"domain": [-0.04, 1.04], "nice": false, "zero": false}, "axis": {"title": "mRNA"}},
        "color": {"field": "s", "type": "nominal", "scale": {"domain": ["target", "previous roles", "HbDual", "KrDual", "HbKrDual", "best"], "range": ["#bebebe", "#ff2a2a", "#0000ff", "#a52a2a", "#00ee00", "#cccccc"]}, "legend": null},
        "strokeDash": {"field": "s", "type": "nominal", "scale": {"domain": ["target", "previous roles", "HbDual", "KrDual", "HbKrDual", "best"], "range": [[1, 0], [5, 4], [1, 0], [1, 0], [1, 0], [5, 4]]}, "legend": null}
      }
    },
    {
      "title": "eve_stripe2", "width": 146, "height": 154, "data": {"name": "p6"}, "mark": "line",
      "encoding": {
        "x": {"field": "x", "type": "quantitative", "scale": {"domain": [-4, 104], "nice": false, "zero": false}, "axis": {"title": "AP"}},
        "y": {"field": "y", "type": "quantitative", "scale": {"domain": [-0.04, 1.04], "nice": false, "zero": false}, "axis": {"title": "mRNA"}},
        "color": {"field": "s", "type": "nominal", "scale": {"domain": ["target", "previous roles", "HbDual", "KrDual", "HbKrDual", "best"], "range": ["#bebebe", "#ff2a2a", "#0000ff", "#a52a2a", "#00ee00", "#cccccc"]}, "legend": null},
        "strokeDash": {"field": "s", "type": "nominal", "scale": {"domain": ["target", "previous roles", "HbDual", "KrDual", "HbKrDual", "best"], "range": [[1, 0], [5, 4], [1, 0], [1, 0], [1, 0], [5, 4]]}, "legend": null}
      }
    }
  ]
}
